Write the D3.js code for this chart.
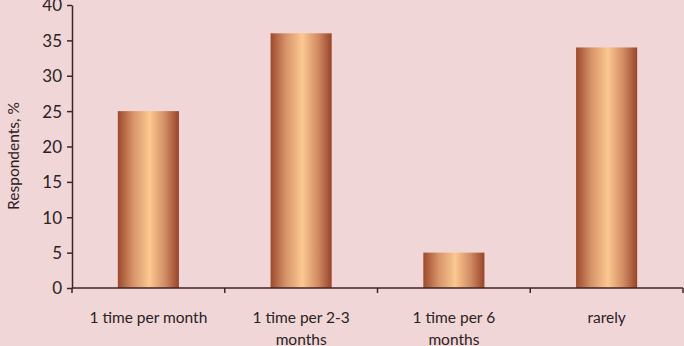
<html>
<head>
<meta charset="utf-8">
<style>
  body { margin:0; background:#f1d6d8; }
  text { font-family: Lato, "Open Sans", sans-serif; fill:#2a2222; }
  .axis path, .axis line { stroke:#3a2626; stroke-width:1.5; }
</style>
<script src="https://d3js.org/d3.v7.min.js"></script>
</head>
<body>
<script>
var categories = [["1 time per month"], ["1 time per 2-3", "months"], ["1 time per 6", "months"], ["rarely"]];
var values = [25, 36, 5, 34];
var yTicks = [0, 5, 10, 15, 20, 25, 30, 35, 40];

var width = 684, height = 346;
var margin = {top:5, right:1, bottom:58, left:72};

var svg = d3.select("body").append("svg").attr("width", width).attr("height", height);
svg.append("rect").attr("width", width).attr("height", height).attr("fill", "#f1d6d8");

var defs = svg.append("defs");
var grad = defs.append("linearGradient").attr("id", "barGrad").attr("x1", "0%").attr("x2", "100%").attr("y1", "0%").attr("y2", "0%");
grad.append("stop").attr("offset", "0%").attr("stop-color", "#9c4a2c");
grad.append("stop").attr("offset", "25%").attr("stop-color", "#d7936a");
grad.append("stop").attr("offset", "52%").attr("stop-color", "#fcc890");
grad.append("stop").attr("offset", "78%").attr("stop-color", "#d08a62");
grad.append("stop").attr("offset", "100%").attr("stop-color", "#98442a");

var x = d3.scaleBand().domain(d3.range(values.length)).range([margin.left, width - margin.right]).paddingInner(0.6).paddingOuter(0.3);
var y = d3.scaleLinear().domain([0, 40]).range([height - margin.bottom, margin.top]);

// bars
svg.selectAll(".bar").data(values).enter().append("rect")
  .attr("class", "bar")
  .attr("x", function(d, i){ return x(i); })
  .attr("y", function(d){ return y(d); })
  .attr("width", x.bandwidth())
  .attr("height", function(d){ return y(0) - y(d); })
  .attr("fill", "url(#barGrad)");

// y axis
var yAxis = d3.axisLeft(y).tickValues(yTicks).tickSize(5).tickSizeOuter(0);
var gy = svg.append("g").attr("class", "axis").attr("transform", "translate(" + margin.left + ",0)").call(yAxis);
gy.selectAll("text").attr("font-size", "17px").attr("x", -10).attr("dy", "0.35em");

// x axis with ticks at category boundaries
var bounds = d3.range(values.length + 1).map(function(i){ return margin.left + (width - margin.right - margin.left) * i / values.length; });
var gx = svg.append("g").attr("class", "axis");
gx.append("line").attr("x1", margin.left).attr("x2", width - margin.right).attr("y1", y(0)).attr("y2", y(0));
gx.selectAll(".tk").data(bounds).enter().append("line")
  .attr("x1", function(d){ return d; }).attr("x2", function(d){ return d; })
  .attr("y1", y(0)).attr("y2", y(0) + 5);

var labels = svg.selectAll(".xl").data(categories).enter().append("text")
  .attr("class", "xl")
  .attr("text-anchor", "middle")
  .attr("font-size", "15.5px")
  .attr("transform", function(d, i){ return "translate(" + (x(i) + x.bandwidth() / 2) + "," + (y(0) + 35) + ")"; });
labels.selectAll("tspan").data(function(d){ return d; }).enter().append("tspan")
  .attr("x", 0).attr("dy", function(d, i){ return i === 0 ? 0 : 22; })
  .text(function(d){ return d; });

// y label
svg.append("text")
  .attr("transform", "translate(19,156) rotate(-90)")
  .attr("text-anchor", "middle")
  .attr("font-size", "15.5px")
  .text("Respondents, %");
</script>
</body>
</html>
